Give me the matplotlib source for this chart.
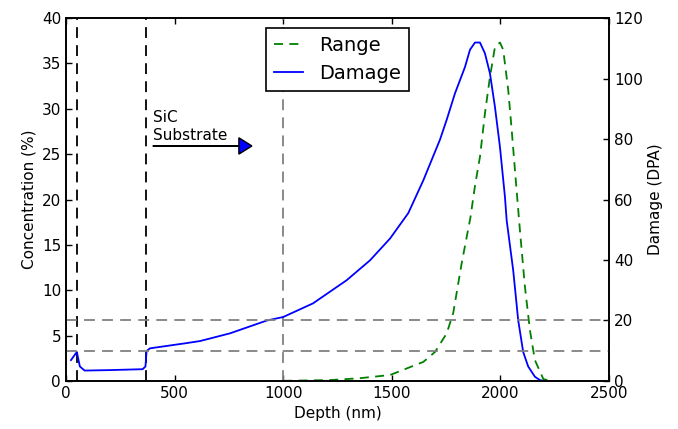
#!/usr/bin/env python3

import numpy as np
import matplotlib

matplotlib.use("Agg")
import matplotlib.pyplot as plt

# Damage profile (DPA, right axis)
damage_depth = [23, 50, 64, 86, 200, 353, 366, 371, 387, 548, 617, 755, 925, 1000,
                1137, 1292, 1400, 1492, 1576, 1645, 1722, 1753, 1791, 1837, 1860,
                1883, 1906, 1929, 1952, 1975, 1998, 2021, 2029, 2059, 2082, 2105,
                2128, 2159, 2182, 2200]
damage_dpa = [6.9, 9.6, 4.8, 3.45, 3.6, 3.9, 4.8, 9.9, 10.8, 12.45, 13.2, 15.75, 20.0,
              21.15, 25.65, 33.3, 39.9, 47.1, 55.5, 66.3, 79.8, 86.4, 95.1, 103.8,
              109.5, 111.9, 111.9, 108.3, 101.7, 90.6, 77.4, 60.9, 53.1, 36.6, 20.1,
              9.6, 4.8, 1.4, 0.3, 0.0]

# Implanted range profile (concentration %, left axis)
range_depth = [1000, 1215, 1350, 1492, 1645, 1699, 1753, 1783, 1822, 1862, 1883, 1906,
               1929, 1952, 1975, 1998, 2013, 2036, 2052, 2072, 2090, 2113, 2136, 2159,
               2198, 2240]
range_conc = [0.02, 0.1, 0.3, 0.66, 2.1, 3.2, 5.25, 7.5, 13.0, 18.0, 21.5, 24.7, 29.5,
              33.5, 36.8, 37.3, 36.5, 32.1, 27.7, 21.8, 16.6, 10.4, 5.6, 2.3, 0.2, 0.0]

interface_depths = [50, 368]
ref_depth = 1000
damage_levels = [10, 20]

plt.rcParams["font.family"] = "DejaVu Sans"
plt.rcParams["font.size"] = 11
plt.rcParams["xtick.direction"] = "in"
plt.rcParams["ytick.direction"] = "in"
plt.rcParams["xtick.top"] = True
plt.rcParams["axes.linewidth"] = 1.2

fig = plt.figure(figsize=(6.78, 4.29), dpi=100)
ax = fig.add_axes([0.0973, 0.1119, 0.8009, 0.8461])
ax2 = ax.twinx()

# Range on the concentration axis, damage on the DPA axis
(l_range,) = ax.plot(range_depth, range_conc, color=(0, 0.5, 0), lw=1.3,
                     dashes=(5, 3.5), label="Range")
(l_dmg,) = ax2.plot(damage_depth, damage_dpa, color="blue", lw=1.3, label="Damage")

for d in interface_depths:
    ax.axvline(d, color="black", lw=1.3, dashes=(6, 4))
ax.axvline(ref_depth, color="grey", lw=1.3, dashes=(6, 4))
for lvl in damage_levels:
    ax2.axhline(lvl, color="grey", lw=1.3, dashes=(6, 4))

ax.text(400, 26.6, "SiC\nSubstrate", fontsize=11, ha="left", va="baseline")
ax.arrow(400, 25.9, 456, 0, width=0.001, head_width=1.8, head_length=60,
         length_includes_head=True, fc="blue", ec="black", lw=1.0)

ax.set_xlim(0, 2500)
ax.set_ylim(0, 40)
ax2.set_ylim(0, 120)
ax.set_xticks(np.arange(0, 2501, 500))
ax.set_yticks(np.arange(0, 41, 5))
ax2.set_yticks(np.arange(0, 121, 20))
for a in (ax, ax2):
    a.tick_params(length=4, width=1)

ax.set_xlabel("Depth (nm)")
ax.set_ylabel("Concentration (%)")
ax2.set_ylabel("Damage (DPA)")

leg = ax2.legend([l_range, l_dmg], ["Range", "Damage"], loc="upper center",
                 bbox_to_anchor=(0.5, 1.0), fontsize=14, fancybox=False,
                 framealpha=1, edgecolor="black", handlelength=1.5)
leg.get_frame().set_linewidth(1.2)

fig.savefig("out.png", dpi=100)
